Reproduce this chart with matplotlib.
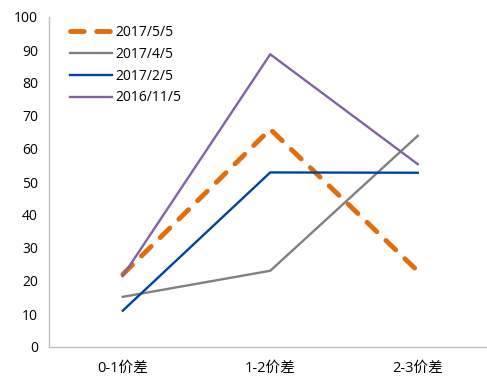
import matplotlib
matplotlib.use('Agg')
import matplotlib.pyplot as plt

plt.rcParams['font.family'] = ['Open Sans', 'Noto Sans CJK SC', 'DejaVu Sans']

categories = ['0-1价差', '1-2价差', '2-3价差']
s_20170505 = [22, 66, 23]
s_20170405 = [15.2, 23.1, 64]
s_20170205 = [11, 52.9, 52.8]
s_20161105 = [21.5, 88.7, 55.4]

fig = plt.figure(figsize=(4.87, 3.76), dpi=100)
ax = fig.add_axes([49 / 487, 1 - 347 / 376, 442.5 / 487, 330 / 376])

x = range(len(categories))
ax.plot(x, s_20170505, color='#E46C0A', lw=3.5, dashes=(2.8, 2.6),
        dash_capstyle='round', label='2017/5/5')
ax.plot(x, s_20170405, color='#808080', lw=1.7, label='2017/4/5')
ax.plot(x, s_20170205, color='#00449E', lw=1.7, label='2017/2/5')
ax.plot(x, s_20161105, color='#8064A2', lw=1.7, label='2016/11/5')

ax.set_xlim(-0.5, 2.5)
ax.set_ylim(0, 100)
ax.set_yticks(range(0, 101, 10))
ax.set_xticks(list(x))
ax.set_xticklabels(categories)
ax.tick_params(axis='both', length=0, labelsize=10, colors='#000000')
ax.tick_params(axis='y', pad=8)
ax.tick_params(axis='x', pad=10, labelsize=10.5)

for side in ['top', 'right']:
    ax.spines[side].set_visible(False)
for side in ['left', 'bottom']:
    ax.spines[side].set_color('#BFBFBF')
    ax.spines[side].set_linewidth(1.0)

ax.legend(loc='upper left', bbox_to_anchor=(0.03, 1.0), frameon=False,
          fontsize=10, handlelength=3.0, handletextpad=0.3, labelspacing=0.5,
          borderaxespad=0.15)

fig.savefig('out.png', dpi=100)
